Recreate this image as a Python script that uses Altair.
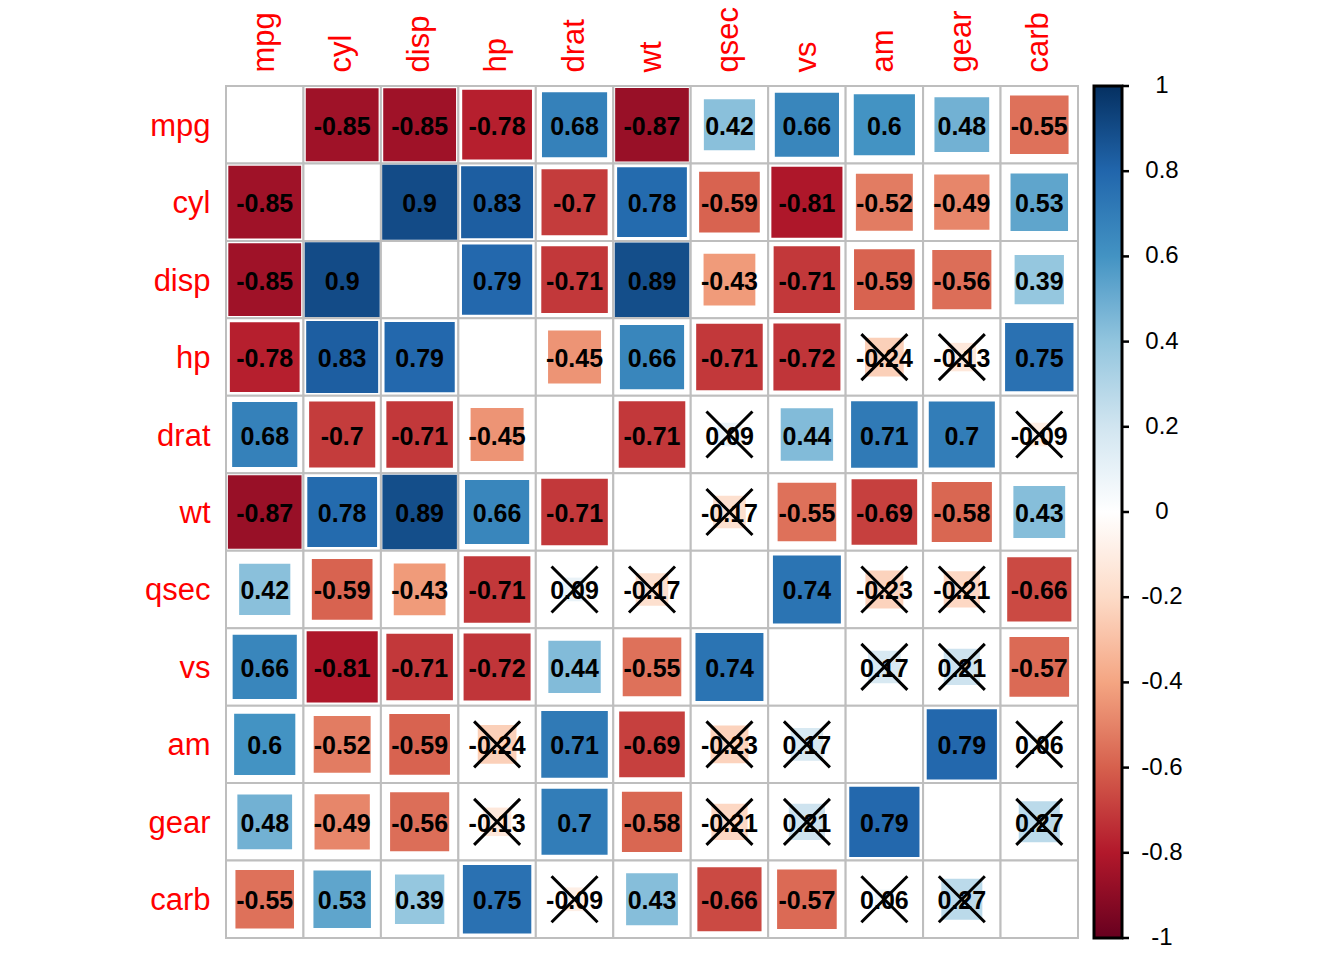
import altair as alt
import pandas as pd

variables = ["mpg", "cyl", "disp", "hp", "drat", "wt", "qsec", "vs", "am", "gear", "carb"]

r_mpg  = [1.00, -0.85, -0.85, -0.78, 0.68, -0.87, 0.42, 0.66, 0.60, 0.48, -0.55]
r_cyl  = [-0.85, 1.00, 0.90, 0.83, -0.70, 0.78, -0.59, -0.81, -0.52, -0.49, 0.53]
r_disp = [-0.85, 0.90, 1.00, 0.79, -0.71, 0.89, -0.43, -0.71, -0.59, -0.56, 0.39]
r_hp   = [-0.78, 0.83, 0.79, 1.00, -0.45, 0.66, -0.71, -0.72, -0.24, -0.13, 0.75]
r_drat = [0.68, -0.70, -0.71, -0.45, 1.00, -0.71, 0.09, 0.44, 0.71, 0.70, -0.09]
r_wt   = [-0.87, 0.78, 0.89, 0.66, -0.71, 1.00, -0.17, -0.55, -0.69, -0.58, 0.43]
r_qsec = [0.42, -0.59, -0.43, -0.71, 0.09, -0.17, 1.00, 0.74, -0.23, -0.21, -0.66]
r_vs   = [0.66, -0.81, -0.71, -0.72, 0.44, -0.55, 0.74, 1.00, 0.17, 0.21, -0.57]
r_am   = [0.60, -0.52, -0.59, -0.24, 0.71, -0.69, -0.23, 0.17, 1.00, 0.79, 0.06]
r_gear = [0.48, -0.49, -0.56, -0.13, 0.70, -0.58, -0.21, 0.21, 0.79, 1.00, 0.27]
r_carb = [-0.55, 0.53, 0.39, 0.75, -0.09, 0.43, -0.66, -0.57, 0.06, 0.27, 1.00]

not_significant = [("hp", "am"), ("hp", "gear"), ("drat", "qsec"), ("drat", "carb"),
                   ("wt", "qsec"), ("qsec", "am"), ("qsec", "gear"), ("vs", "am"),
                   ("vs", "gear"), ("am", "carb"), ("gear", "carb")]

legend_values = [1, 0.8, 0.6, 0.4, 0.2, 0, -0.2, -0.4, -0.6, -0.8, -1]
palette = ["#67001F", "#B2182B", "#D6604D", "#F4A582", "#FDDBC7", "#FFFFFF",
           "#D1E5F0", "#92C5DE", "#4393C3", "#2166AC", "#053061"]
palette_domain = [-1, -0.8, -0.6, -0.4, -0.2, 0, 0.2, 0.4, 0.6, 0.8, 1]

rows = [r_mpg, r_cyl, r_disp, r_hp, r_drat, r_wt, r_qsec, r_vs, r_am, r_gear, r_carb]
ns = set(not_significant) | {(b, a) for a, b in not_significant}

records = []
for i, rv in enumerate(variables):
    for j, cv in enumerate(variables):
        v = rows[i][j]
        records.append({
            "row": rv, "col": cv, "r": v, "absr": abs(v),
            "label": f"{v:g}", "diag": i == j, "ns": (rv, cv) in ns,
        })
df = pd.DataFrame(records)
ticks_df = pd.DataFrame({"v": legend_values, "lab": [f"{v:g}" for v in legend_values]})

CELL = 852 / 11
FONT = "Liberation Sans"

xenc = alt.X("col:N", sort=variables, title=None,
             scale=alt.Scale(domain=variables, paddingInner=0, paddingOuter=0),
             axis=alt.Axis(orient="top", labelAngle=270, labelAlign="left",
                           labelBaseline="middle", labelPadding=14, ticks=False,
                           domain=False, labelColor="#FF0000", labelFontSize=31,
                           labelFont=FONT))
yenc = alt.Y("row:N", sort=variables, title=None,
             scale=alt.Scale(domain=variables, paddingInner=0, paddingOuter=0),
             axis=alt.Axis(orient="left", labelAlign="right", labelBaseline="middle",
                           labelPadding=16, labelOffset=2, ticks=False, domain=False,
                           labelColor="#FF0000", labelFontSize=31, labelFont=FONT))

base = alt.Chart(df)

grid = base.mark_rect(fill="white", stroke="#BEBEBE", strokeWidth=2).encode(x=xenc, y=yenc)

color_scale = alt.Scale(domain=palette_domain, range=palette, interpolate="rgb")

squares = base.transform_filter("!datum.diag").mark_square(opacity=1).encode(
    x=xenc, y=yenc,
    size=alt.Size("absr:Q", scale=alt.Scale(domain=[0, 1], range=[0, CELL * CELL * 1.04]),
                  legend=None),
    color=alt.Color("r:Q", scale=color_scale,
                    legend=alt.Legend(type="gradient", orient="none", direction="vertical",
                                      legendX=868, legendY=0, title=None,
                                      gradientLength=852, gradientThickness=28,
                                      values=legend_values, labelExpr="''",
                                      labelFontSize=1, labelOverlap=False,
                                      gradientStrokeColor="black",
                                      gradientStrokeWidth=3)),
)

text = base.transform_filter("!datum.diag").mark_text(
    fontSize=25, fontWeight="bold", font=FONT, color="black", dy=2
).encode(x=xenc, y=yenc, text="label:N")

cross = base.transform_filter("datum.ns").mark_point(
    shape="M-1,-1L1,1M-1,1L1,-1", size=2116, stroke="black", strokeWidth=3,
    filled=False, opacity=1
).encode(x=xenc, y=yenc)

matrix = alt.layer(grid, squares, text, cross)

tick_y = alt.Y("v:Q", scale=alt.Scale(domain=[-1, 1]), axis=None)
bar_ticks = alt.Chart(ticks_df).mark_rule(color="black", strokeWidth=2.5).encode(
    y=tick_y, x=alt.value(896), x2=alt.value(903),
)
bar_labels = alt.Chart(ticks_df).mark_text(
    fontSize=24, font=FONT, color="black", align="center", baseline="middle"
).encode(y=tick_y, x=alt.value(936), text="lab:N")
colorbar = alt.layer(bar_ticks, bar_labels)

chart = alt.layer(matrix, colorbar).resolve_scale(
    y="independent"
).properties(
    width=852, height=852,
    padding={"left": 226, "top": 86, "right": 266, "bottom": 22},
    autosize=alt.AutoSizeParams(type="none"),
).configure_view(stroke=None)

chart.save("out.html", embed_options={"renderer": "svg", "actions": False})
